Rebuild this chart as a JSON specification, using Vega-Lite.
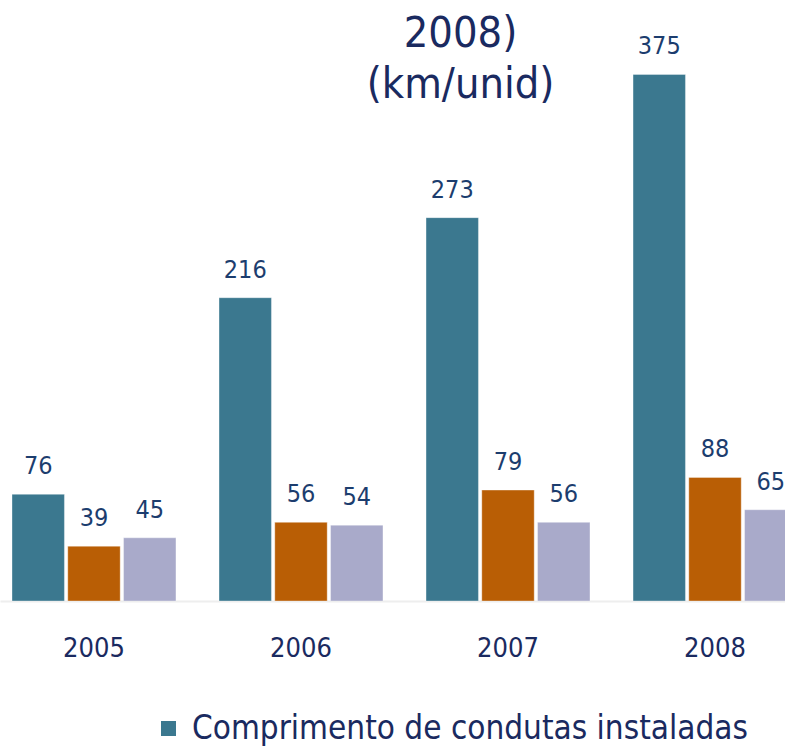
{
  "$schema": "https://vega.github.io/schema/vega-lite/v6.json",
  "width": 785,
  "height": 601,
  "autosize": {"type": "none"},
  "padding": {"top": 0, "left": 0, "right": 0, "bottom": 152},
  "background": "#ffffff",
  "title": {
    "text": ["2008)", "(km/unid)"],
    "anchor": "middle",
    "frame": "group",
    "orient": "top",
    "offset": 0,
    "baseline": "top",
    "dx": 68,
    "dy": 107,
    "fontSize": 43,
    "lineHeight": 51,
    "font": "'DejaVu Sans Condensed', 'Liberation Sans', sans-serif",
    "fontWeight": "normal",
    "color": "#1a2a60"
  },
  "data": {
    "values": [
      {"year": "2005", "series": "Comprimento de condutas instaladas", "value": 76},
      {"year": "2005", "series": "Série 2", "value": 39},
      {"year": "2005", "series": "Série 3", "value": 45},
      {"year": "2006", "series": "Comprimento de condutas instaladas", "value": 216},
      {"year": "2006", "series": "Série 2", "value": 56},
      {"year": "2006", "series": "Série 3", "value": 54},
      {"year": "2007", "series": "Comprimento de condutas instaladas", "value": 273},
      {"year": "2007", "series": "Série 2", "value": 79},
      {"year": "2007", "series": "Série 3", "value": 56},
      {"year": "2008", "series": "Comprimento de condutas instaladas", "value": 375},
      {"year": "2008", "series": "Série 2", "value": 88},
      {"year": "2008", "series": "Série 3", "value": 65}
    ]
  },
  "encoding": {
    "x": {
      "field": "year",
      "type": "nominal",
      "scale": {"range": [0, 809], "paddingInner": 0.208, "paddingOuter": 0.058},
      "axis": {
        "title": null,
        "orient": "bottom",
        "labelAngle": 0,
        "ticks": false,
        "domain": true,
        "domainColor": "#eeeeee",
        "domainWidth": 2,
        "labelPadding": 34,
        "labelBaseline": "top",
        "labelFontSize": 27,
        "labelFont": "'DejaVu Sans Condensed', 'Liberation Sans', sans-serif",
        "labelColor": "#1a2a60",
        "grid": false
      }
    },
    "xOffset": {
      "field": "series",
      "type": "nominal",
      "scale": {"paddingInner": 0.06, "paddingOuter": 0},
      "sort": ["Comprimento de condutas instaladas", "Série 2", "Série 3"]
    },
    "y": {
      "field": "value",
      "type": "quantitative",
      "scale": {"domain": [0, 428], "nice": false, "zero": true},
      "axis": null
    }
  },
  "layer": [
    {
      "mark": {"type": "bar", "clip": true, "stroke": "#ffffff", "strokeOpacity": 0.35, "strokeWidth": 1},
      "encoding": {
        "color": {
          "field": "series",
          "type": "nominal",
          "scale": {
            "domain": ["Comprimento de condutas instaladas", "Série 2", "Série 3"],
            "range": ["#3b788f", "#b95e05", "#a9aaca"]
          },
          "legend": {
            "values": ["Comprimento de condutas instaladas"],
            "orient": "none",
            "legendX": 152,
            "legendY": 712,
            "title": null,
            "symbolType": "square",
            "symbolSize": 225,
            "symbolStrokeWidth": 0,
            "labelFontSize": 33,
            "labelFont": "'DejaVu Sans Condensed', 'Liberation Sans', sans-serif",
            "labelColor": "#1a2a60",
            "labelOffset": 7,
            "labelLimit": 0
          }
        }
      }
    },
    {
      "mark": {"type": "text", "baseline": "alphabetic", "dy": -20, "fontSize": 25, "font": "'DejaVu Sans Condensed', 'Liberation Sans', sans-serif", "color": "#1c3d6e"},
      "encoding": {
        "text": {"field": "value", "type": "quantitative"}
      }
    }
  ],
  "config": {"view": {"stroke": null}}
}
